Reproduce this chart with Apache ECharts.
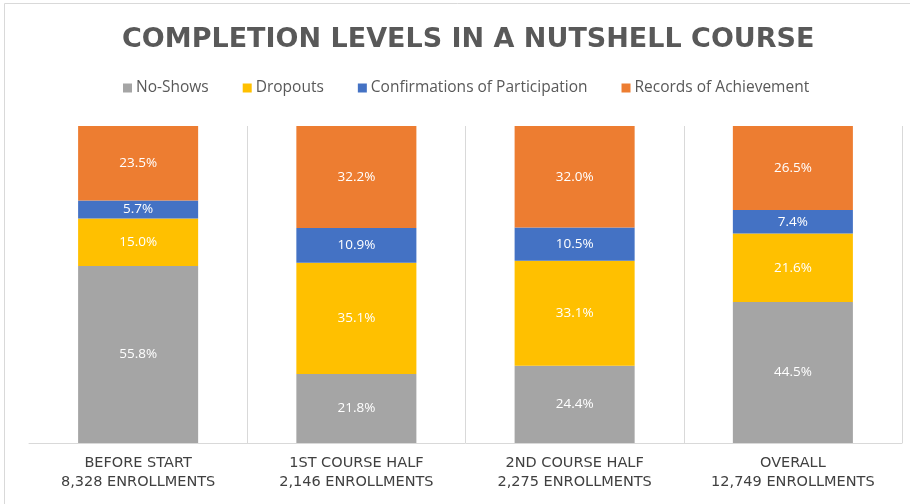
<!DOCTYPE html>
<html>
<head>
<meta charset="utf-8">
<script src="https://cdn.jsdelivr.net/npm/echarts@6/dist/echarts.min.js"></script>
<style>
  html, body { margin: 0; padding: 0; background: #fff; }
  #chart { width: 910px; height: 504px; }
</style>
</head>
<body>
<div id="chart"></div>
<script>
  // stacked shares per enrollment group (percent)
  const categories = [
    'BEFORE START\n8,328 ENROLLMENTS',
    '1ST COURSE HALF\n2,146 ENROLLMENTS',
    '2ND COURSE HALF\n2,275 ENROLLMENTS',
    'OVERALL\n12,749 ENROLLMENTS'
  ]
  const noShows = [55.8, 21.8, 24.4, 44.5]
  const dropouts = [15.0, 35.1, 33.1, 21.6]
  const confirmations = [5.7, 10.9, 10.5, 7.4]
  const records = [23.5, 32.2, 32.0, 26.5]

  const seriesDefs = [
    { name: 'No-Shows', data: noShows, color: '#a5a5a5' },
    { name: 'Dropouts', data: dropouts, color: '#ffc000' },
    { name: 'Confirmations of Participation', data: confirmations, color: '#4472c4' },
    { name: 'Records of Achievement', data: records, color: '#ed7d31' }
  ]

  let myChart = echarts.init(document.getElementById('chart'))
  myChart.setOption({
    animation: false,
    textStyle: { fontFamily: 'Open Sans' },
    graphic: [{
      type: 'rect',
      shape: { x: 4.5, y: 3.5, width: 920, height: 520 },
      style: { fill: 'none', stroke: '#d9d9d9', lineWidth: 1 },
      silent: true
    }],
    title: {
      text: 'COMPLETION LEVELS IN A NUTSHELL COURSE',
      left: 117,
      top: 21,
      textStyle: {
        fontFamily: 'DejaVu Sans',
        fontSize: 27,
        fontWeight: 'bold',
        color: '#595959'
      }
    },
    legend: {
      top: 75,
      left: 118,
      itemWidth: 9,
      itemHeight: 9,
      itemGap: 34,
      icon: 'rect',
      textStyle: { fontSize: 15.5, color: '#595959', padding: [0, 0, 0, -1] },
      data: seriesDefs.map(s => s.name)
    },
    grid: { left: 29, right: 8, top: 126, bottom: 61 },
    xAxis: {
      type: 'category',
      data: categories,
      axisTick: { show: false },
      axisLine: { lineStyle: { color: '#d9d9d9' } },
      splitLine: {
        show: true,
        showMinLine: false,
        lineStyle: { color: '#d9d9d9' }
      },
      axisLabel: {
        fontFamily: 'DejaVu Sans',
        fontSize: 14.5,
        color: '#404040',
        lineHeight: 19,
        margin: 11
      }
    },
    yAxis: {
      type: 'value',
      min: 0,
      max: 100,
      show: false
    },
    series: seriesDefs.map(s => ({
      name: s.name,
      type: 'bar',
      stack: 'total',
      barWidth: '55%',
      itemStyle: { color: s.color },
      label: {
        show: true,
        position: 'inside',
        color: '#ffffff',
        fontSize: 13.5,
        formatter: p => p.value.toFixed(1) + '%'
      },
      data: s.data
    }))
  })
</script>
</body>
</html>
